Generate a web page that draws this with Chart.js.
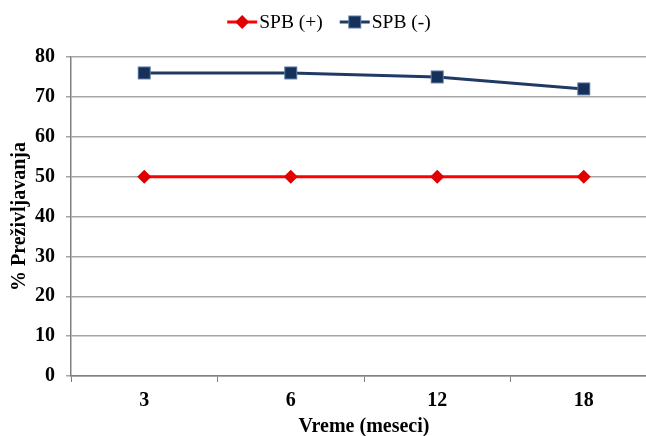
<!DOCTYPE html>
<html>
<head>
<meta charset="utf-8">
<script src="https://cdn.jsdelivr.net/npm/chart.js@4/dist/chart.umd.min.js"></script>
<style>
  html, body { margin: 0; padding: 0; background: #fff; overflow: hidden; }
  #wrap { width: 660px; height: 436px; }
</style>
</head>
<body>
<div id="wrap"><canvas id="surv"></canvas></div>
<script>
// podaci
const meseci = ["3", "6", "12", "18"];
const spbPlus = [50, 50, 50, 50];
const spbMinus = [76, 76, 75, 72];
const yTicks = [0, 10, 20, 30, 40, 50, 60, 70, 80];

const RED = "#FF0000";
const NAVY = "#1F3A63";
const FONT = "'Liberation Serif', 'Times New Roman', serif";

// marker: romb za SPB (+), kvadrat za SPB (-)
function drawMarker(ctx, kind, x, y) {
  ctx.save();
  if (kind === "diamond") {
    ctx.fillStyle = "#E00000";
    ctx.beginPath();
    ctx.moveTo(x, y - 7); ctx.lineTo(x + 7, y);
    ctx.lineTo(x, y + 7); ctx.lineTo(x - 7, y);
    ctx.closePath(); ctx.fill();
  } else {
    ctx.fillStyle = "#5F7CA3";
    ctx.fillRect(x - 6.5, y - 6.5, 13, 13);
    ctx.fillStyle = "#15305A";
    ctx.fillRect(x - 5.5, y - 5.5, 11, 11);
  }
  ctx.restore();
}

const markerKinds = ["diamond", "square"];

new Chart(document.getElementById("surv"), {
  type: "line",
  data: {
    labels: meseci,
    datasets: [{
      label: "SPB (+)",
      data: spbPlus,
      borderColor: RED,
      borderWidth: 3,
      pointRadius: 0,
      pointHoverRadius: 0
    }, {
      label: "SPB (-)",
      data: spbMinus,
      borderColor: NAVY,
      borderWidth: 3,
      pointRadius: 0,
      pointHoverRadius: 0
    }]
  },
  options: {
    responsive: true,
    maintainAspectRatio: false,
    animation: false,
    layout: { padding: { top: 57, right: 3, left: 0, bottom: 0 } },
    plugins: {
      tooltip: { enabled: false },
      legend: { display: false }
    },
    scales: {
      x: {
        offset: true,
        afterFit: s => { s.height = 60; },
        grid: { offset: true, drawOnChartArea: false, tickLength: 6, color: "#808080" },
        border: { color: "#808080", width: 1.5 },
        ticks: { color: "#000", font: { family: FONT, size: 20, weight: "bold" }, padding: 7 },
        title: {
          display: true,
          text: "Vreme (meseci)",
          color: "#000",
          font: { family: FONT, size: 20, weight: "bold", lineHeight: 0.9 },
          padding: { top: 0, bottom: 0 }
        }
      },
      y: {
        min: 0,
        max: 80,
        afterBuildTicks: axis => { axis.ticks = yTicks.map(v => ({ value: v })); },
        afterFit: s => { s.width = 71; },
        grid: { color: "#A6A6A6", lineWidth: 1.5, tickLength: 5 },
        border: { color: "#808080", width: 1.5 },
        ticks: { color: "#000", font: { family: FONT, size: 20, weight: "bold" }, padding: 11 },
        title: {
          display: true,
          text: "% Preživljavanja",
          color: "#000",
          font: { family: FONT, size: 20, weight: "bold" },
          padding: { top: 8, bottom: 0 }
        }
      }
    }
  },
  plugins: [{
    // markeri na tackama i legenda (linija + marker + naziv)
    id: "markeri",
    afterDatasetsDraw(chart) {
      const ctx = chart.ctx;
      chart.data.datasets.forEach((ds, i) => {
        chart.getDatasetMeta(i).data.forEach(pt => drawMarker(ctx, markerKinds[i], pt.x, pt.y));
      });
    },
    afterDraw(chart) {
      const ctx = chart.ctx;
      const y = 22, lineW = 30, gapText = 2, gapItem = 17;
      ctx.save();
      ctx.font = "19.5px " + FONT;
      ctx.textBaseline = "middle";
      const items = chart.data.datasets.map(ds => ({
        ds, w: lineW + gapText + ctx.measureText(ds.label).width
      }));
      const total = items.reduce((a, it) => a + it.w, 0) + gapItem * (items.length - 1);
      let x = 329 - total / 2;
      items.forEach((it, i) => {
        ctx.strokeStyle = it.ds.borderColor;
        ctx.lineWidth = 3;
        ctx.beginPath(); ctx.moveTo(x, y); ctx.lineTo(x + lineW, y); ctx.stroke();
        drawMarker(ctx, markerKinds[i], x + lineW / 2, y);
        ctx.fillStyle = "#000";
        ctx.fillText(it.ds.label, x + lineW + gapText, y + 1);
        x += it.w + gapItem;
      });
      ctx.restore();
    }
  }]
});
</script>
</body>
</html>
